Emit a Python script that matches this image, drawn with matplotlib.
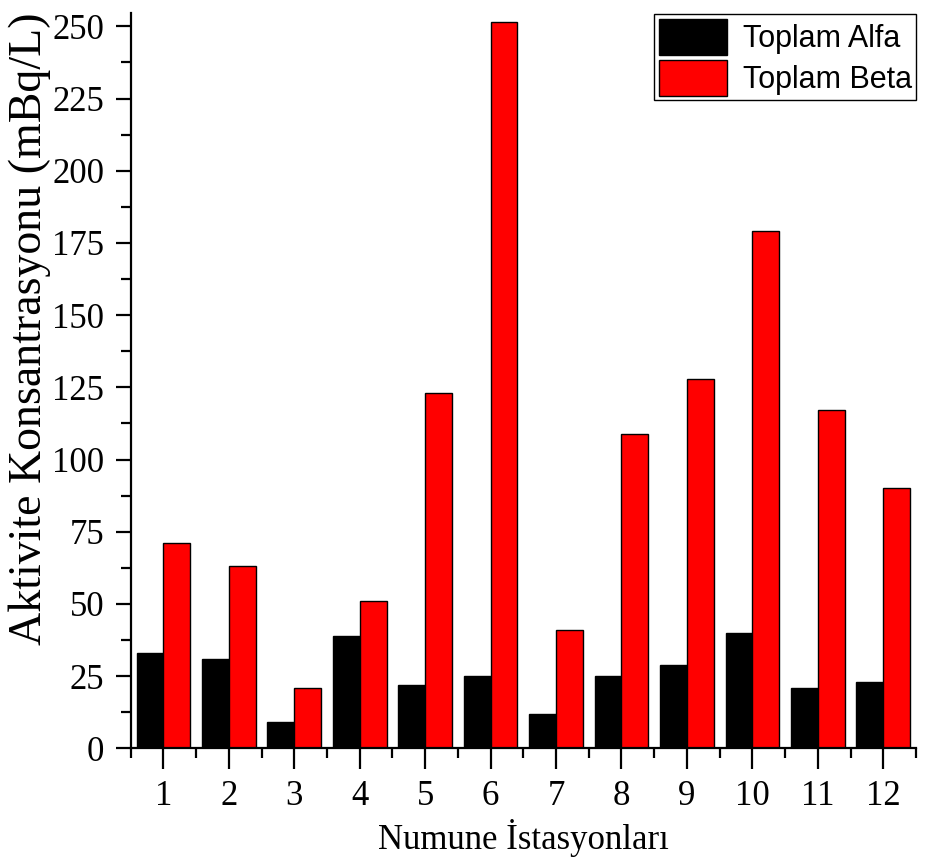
import numpy as np
import matplotlib.pyplot as plt
from matplotlib.ticker import MultipleLocator

stations = ['1', '2', '3', '4', '5', '6', '7', '8', '9', '10', '11', '12']
alfa = [33, 31, 9, 39, 22, 25, 12, 25, 29, 40, 21, 23]
beta = [71, 63, 21, 51, 123, 251.5, 41, 109, 128, 179, 117, 90]

serif = ['Liberation Serif', 'DejaVu Serif']
sans = ['Liberation Sans', 'DejaVu Sans']


def main():
    fig = plt.figure(figsize=(9.32, 8.63), dpi=100)
    ax = fig.add_axes([0.1402, 0.1329, 0.8426, 0.852])

    x = np.arange(1, len(stations) + 1)
    w = 0.41
    ax.bar(x - w / 2, alfa, w, color='black', edgecolor='black', linewidth=1, label='Toplam Alfa')
    ax.bar(x + w / 2, beta, w, color='#ff0000', edgecolor='black', linewidth=1, label='Toplam Beta')

    ax.set_xlim(0.5, 12.5)
    ax.set_ylim(0, 254.6)
    ax.spines['top'].set_visible(False)
    ax.spines['right'].set_visible(False)
    for s in ('left', 'bottom'):
        ax.spines[s].set_linewidth(1.6)

    ax.set_xticks(x)
    ax.set_xticklabels(stations)
    ax.xaxis.set_minor_locator(MultipleLocator(0.5))
    ax.yaxis.set_major_locator(MultipleLocator(25))
    ax.yaxis.set_minor_locator(MultipleLocator(12.5))
    ax.tick_params(which='major', length=11, width=1.6, direction='out', pad=8)
    ax.tick_params(axis='x', which='major', length=15)
    ax.tick_params(which='minor', length=7, width=1.6, direction='out')
    for lab in ax.get_xticklabels() + ax.get_yticklabels():
        lab.set_family(serif)
        lab.set_fontsize(25)

    ax.set_xlabel('Numune İstasyonları', family=serif, fontsize=25, labelpad=4)
    ax.set_ylabel('Aktivite Konsantrasyonu (mBq/L)', family=serif, fontsize=33)
    ax.yaxis.set_label_coords(-0.102, 0.571)

    leg = fig.legend(loc='upper left', bbox_to_anchor=(654 / 932, 1 - 14 / 863),
                     bbox_transform=fig.transFigure, borderaxespad=0,
                     prop={'family': sans, 'size': 22}, handlelength=2.25,
                     handleheight=1.44, labelspacing=0.16, handletextpad=0.5,
                     borderpad=0.15, fancybox=False, framealpha=1)
    leg.get_frame().set_edgecolor('black')
    leg.get_frame().set_linewidth(1)

    fig.savefig('out.png', dpi=100)


if __name__ == "__main__":
    main()
